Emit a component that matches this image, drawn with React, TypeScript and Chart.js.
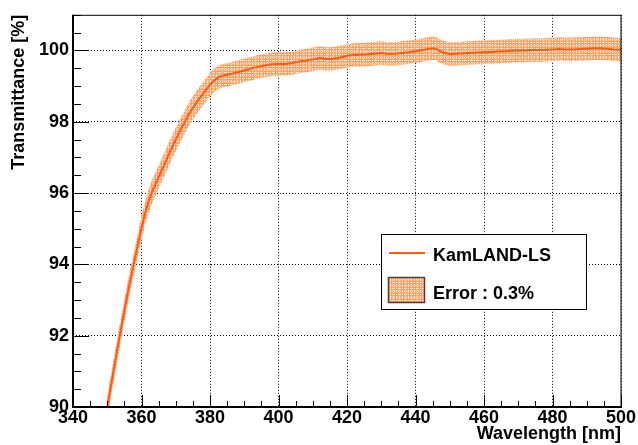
import React, { useEffect, useRef } from "react";
import { Chart, registerables } from "chart.js";

Chart.register(...registerables);

// ---- data ----
const wavelengths = [
  350, 351, 352, 353, 354, 355, 356, 357, 358, 359, 360, 361, 362, 363, 364, 365, 366, 367, 368, 369,
  370, 371, 372, 373, 374, 375, 376, 377, 378, 379, 380, 381, 382, 383, 384, 385, 386, 388, 390, 392,
  394, 396, 398, 400, 402, 404, 406, 408, 410, 412, 414, 416, 418, 420, 422, 424, 426, 428, 430, 432,
  434, 436, 438, 440, 442, 444, 445, 446, 447, 448, 450, 452, 454, 456, 458, 460, 462, 464, 466, 468,
  470, 472, 474, 476, 478, 480, 482, 484, 486, 488, 490, 492, 494, 496, 498, 500,
];
const transmittance = [
  90.0, 90.55, 91.1, 91.65, 92.18, 92.7, 93.2, 93.68, 94.13, 94.58, 95.02, 95.42, 95.75, 96.02, 96.24, 96.45, 96.66, 96.87, 97.09, 97.3,
  97.5, 97.7, 97.88, 98.06, 98.23, 98.39, 98.53, 98.66, 98.78, 98.92, 99.04, 99.14, 99.22, 99.27, 99.3, 99.32, 99.34, 99.39, 99.44, 99.49,
  99.54, 99.58, 99.61, 99.62, 99.62, 99.65, 99.69, 99.71, 99.75, 99.79, 99.76, 99.77, 99.8, 99.85, 99.87, 99.88, 99.89, 99.91, 99.93, 99.9,
  99.91, 99.93, 99.95, 99.98, 100.01, 100.05, 100.06, 100.04, 99.99, 99.94, 99.9, 99.91, 99.92, 99.93, 99.94, 99.95, 99.96, 99.97, 99.98, 99.99,
  100.0, 100.0, 100.01, 100.01, 100.02, 100.03, 100.04, 100.03, 100.03, 100.04, 100.05, 100.06, 100.06, 100.05, 100.03, 100.02,
];
const errorHalfWidth = 0.33;

const xMin = 340;
const xMax = 500;
const yMin = 90;
const yMax = 101;
const xMajorTicks = [340, 360, 380, 400, 420, 440, 460, 480, 500];
const yMajorTicks = [90, 92, 94, 96, 98, 100];
const xMinorStep = 5;
const yMinorStep = 0.5;

const seriesLabel = "KamLAND-LS";
const errorLabel = "Error : 0.3%";
const xTitle = "Wavelength [nm]";
const yTitle = "Transmittance [%]";

// ---- styles ----
const FONT = "'Liberation Sans', Arial, Helvetica, sans-serif";
const LINE_COLOR = "#ff5a14";

function makePattern(): CanvasPattern | string {
  const pc = document.createElement("canvas");
  pc.width = 6;
  pc.height = 6;
  const p = pc.getContext("2d");
  if (!p) return "#fdb07c";
  p.fillStyle = "#ffa262";
  p.fillRect(0, 0, 6, 6);
  p.fillStyle = "#ffe4d0";
  for (let y = 0; y < 6; y++) {
    for (let x = 0; x < 6; x++) {
      const light = (x % 3 === 0 && y % 2 === 0) || (y % 3 === 0 && x % 2 === 0);
      if (light) p.fillRect(x, y, 1, 1);
    }
  }
  const pat = p.createPattern(pc, "repeat");
  return pat || "#fdb07c";
}

const rootStylePlugin = {
  id: "rootStyle",
  afterDraw(chart: any) {
    const ctx: CanvasRenderingContext2D = chart.ctx;
    const { left, right, top, bottom } = chart.chartArea;
    const xs = chart.scales.x;
    const ys = chart.scales.y;
    const pattern = chart.options.plugins.rootStyle.pattern;
    ctx.save();

    // inner tick marks
    ctx.strokeStyle = "#000";
    ctx.lineWidth = 1;
    ctx.beginPath();
    for (let v = xMin; v <= xMax + 1e-9; v += xMinorStep) {
      const px = Math.round(xs.getPixelForValue(v)) + 0.5;
      const major = xMajorTicks.some((t) => Math.abs(t - v) < 1e-6);
      const len = major ? 12 : 6;
      ctx.moveTo(px, bottom);
      ctx.lineTo(px, bottom - len);
    }
    for (let v = yMin; v <= yMax + 1e-9; v += yMinorStep) {
      const py = Math.round(ys.getPixelForValue(v)) + 0.5;
      const major = yMajorTicks.some((t) => Math.abs(t - v) < 1e-6);
      const len = major ? 16 : 8;
      ctx.moveTo(left, py);
      ctx.lineTo(left + len, py);
    }
    ctx.stroke();

    // frame
    ctx.lineWidth = 1;
    ctx.strokeRect(left + 0.5, top + 0.5, right - left - 0.5, bottom - top);
    ctx.lineWidth = 2;
    ctx.beginPath();
    ctx.moveTo(left, top);
    ctx.lineTo(left, bottom + 1);
    ctx.moveTo(left - 1, bottom);
    ctx.lineTo(right + 1, bottom);
    ctx.stroke();

    // legend box
    const lx = 381.5, ly = 234.5, lw = 205, lh = 75;
    ctx.fillStyle = "#fff";
    ctx.fillRect(lx, ly, lw, lh);
    ctx.lineWidth = 1;
    ctx.strokeStyle = "#000";
    ctx.strokeRect(lx, ly, lw, lh);

    ctx.strokeStyle = LINE_COLOR;
    ctx.lineWidth = 2;
    ctx.beginPath();
    ctx.moveTo(389, 253);
    ctx.lineTo(425, 253);
    ctx.stroke();

    ctx.fillStyle = pattern;
    ctx.fillRect(388, 277, 37, 26);
    ctx.strokeStyle = "#5a3a28";
    ctx.lineWidth = 1.5;
    ctx.strokeRect(388.5, 277.5, 36, 25);

    ctx.fillStyle = "#000";
    ctx.font = `bold 18px ${FONT}`;
    ctx.textAlign = "left";
    ctx.textBaseline = "alphabetic";
    ctx.fillText(seriesLabel, 433, 260.5);
    ctx.fillText(errorLabel, 433, 298.5);

    ctx.restore();
  },
};

export default function App() {
  const ref = useRef<HTMLCanvasElement | null>(null);

  useEffect(() => {
    const canvas = ref.current;
    if (!canvas) return;
    const pattern = makePattern();

    const linePts = wavelengths.map((w, i) => ({ x: w, y: transmittance[i] }));
    const upperPts = wavelengths.map((w, i) => ({ x: w, y: transmittance[i] + errorHalfWidth }));
    const lowerPts = wavelengths.map((w, i) => ({ x: w, y: transmittance[i] - errorHalfWidth }));

    const tickFont = { family: FONT, size: 18, weight: "bold" as const };

    const chart = new Chart(canvas, {
      type: "line",
      data: {
        datasets: [
          {
            label: seriesLabel,
            data: linePts,
            borderColor: LINE_COLOR,
            borderWidth: 2,
            pointRadius: 0,
            fill: false,
            tension: 0,
            order: 0,
          },
          {
            label: errorLabel,
            data: upperPts,
            borderWidth: 0,
            borderColor: "rgba(0,0,0,0)",
            backgroundColor: pattern as any,
            pointRadius: 0,
            fill: "+1",
            order: 1,
          },
          {
            label: "lower",
            data: lowerPts,
            borderWidth: 0,
            borderColor: "rgba(0,0,0,0)",
            pointRadius: 0,
            fill: false,
            order: 2,
          },
        ],
      },
      options: {
        responsive: false,
        animation: false,
        devicePixelRatio: 1,
        layout: { padding: { left: 0, top: 13, right: 17, bottom: 0 } },
        plugins: {
          legend: { display: false },
          tooltip: { enabled: false },
          rootStyle: { pattern },
        } as any,
        scales: {
          x: {
            type: "linear",
            min: xMin,
            max: xMax,
            afterBuildTicks: (s: any) => {
              s.ticks = xMajorTicks.map((v) => ({ value: v }));
            },
            afterFit: (s: any) => {
              s.height = 38;
            },
            grid: { color: "#000", lineWidth: 1, drawTicks: false },
            border: { display: false, dash: [1, 2] },
            ticks: {
              color: "#000",
              font: tickFont,
              padding: 0,
              maxRotation: 0,
              autoSkip: false,
            },
            title: {
              display: true,
              text: xTitle,
              align: "end",
              color: "#000",
              font: tickFont,
              padding: { top: 0, bottom: 0 },
            },
          },
          y: {
            type: "linear",
            min: yMin,
            max: yMax,
            afterBuildTicks: (s: any) => {
              s.ticks = yMajorTicks.map((v) => ({ value: v }));
            },
            afterFit: (s: any) => {
              s.width = 73;
            },
            grid: { color: "#000", lineWidth: 1, drawTicks: false },
            border: { display: false, dash: [1, 2] },
            ticks: {
              color: "#000",
              font: tickFont,
              padding: 4,
            },
            title: {
              display: true,
              text: yTitle,
              align: "end",
              color: "#000",
              font: tickFont,
              padding: { top: 8, bottom: 0 },
            },
          },
        },
      },
      plugins: [rootStylePlugin as any],
    });

    return () => {
      chart.destroy();
    };
  }, []);

  return (
    <div style={{ position: "absolute", left: 0, top: 0, width: 638, height: 445, background: "#fff" }}>
      <canvas ref={ref} width={638} height={445} style={{ display: "block", width: 638, height: 445 }} />
    </div>
  );
}
